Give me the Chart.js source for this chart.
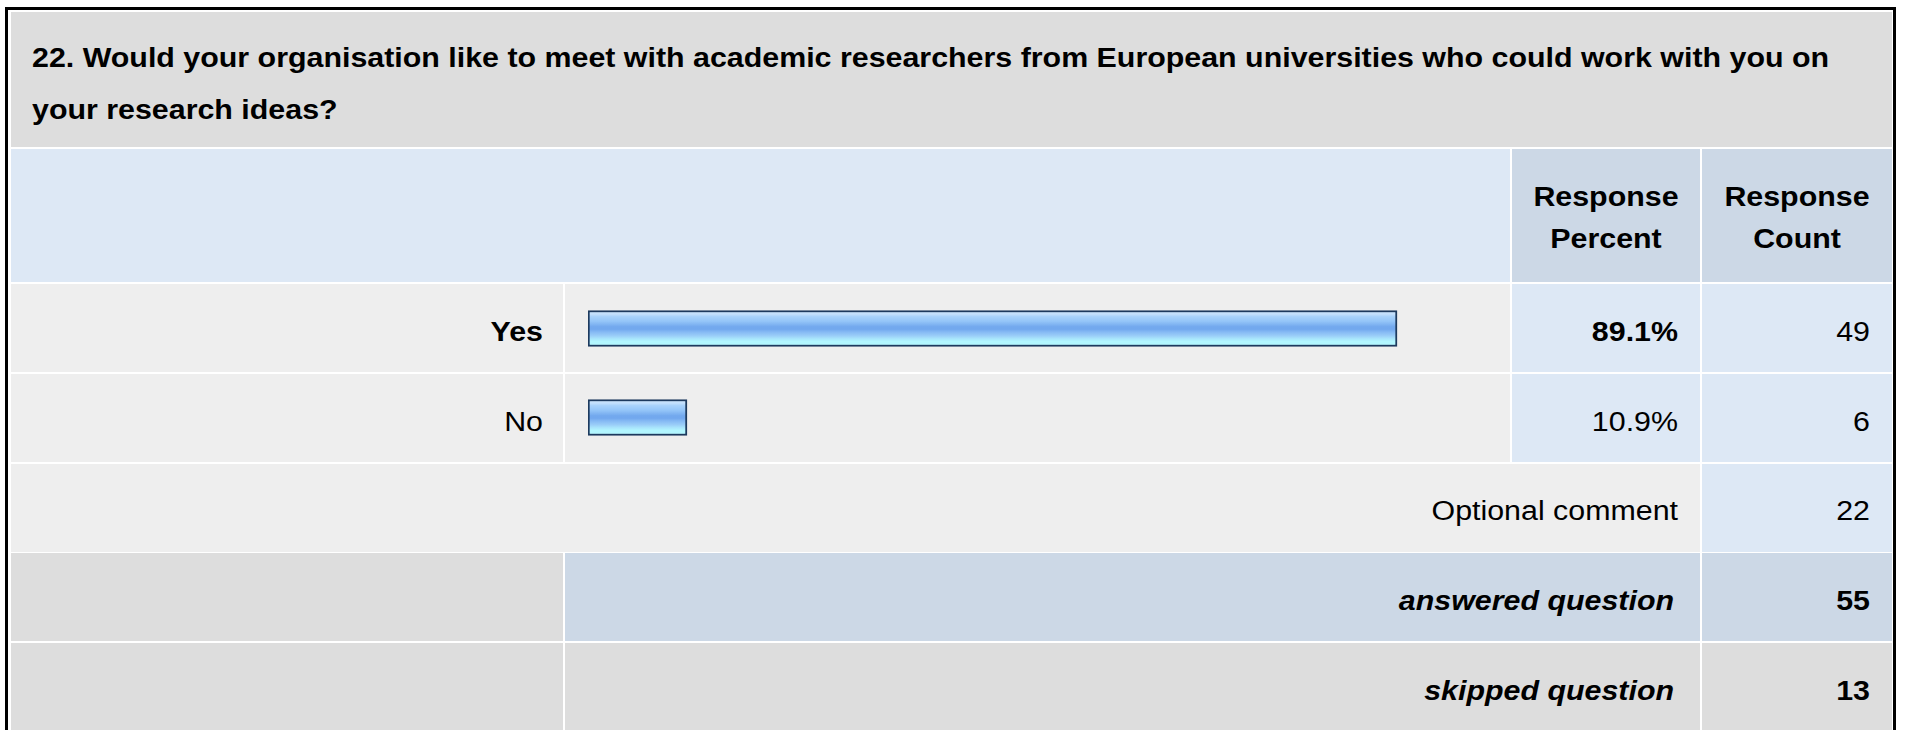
<!DOCTYPE html>
<html>
<head>
<meta charset="utf-8">
<script src="https://cdn.jsdelivr.net/npm/chart.js@4.4.1/dist/chart.umd.min.js"></script>
<style>
  html, body { margin:0; padding:0; background:#ffffff; width:1913px; height:730px; overflow:hidden; position:relative; }
  .box { position:absolute; }
  .t { position:absolute; white-space:nowrap; font-family:"Liberation Sans", Arial, Helvetica, sans-serif;
       font-size:27px; line-height:30px; color:#000; }
  #bars { position:absolute; }
</style>
</head>
<body>
<script>
// ---------------- data ----------------
const questionLines = [
  '22. Would your organisation like to meet with academic researchers from European universities who could work with you on',
  'your research ideas?'
];
const headerPercent = ['Response', 'Percent'];
const headerCount = ['Response', 'Count'];
const categories = ['Yes', 'No'];
const percents = [89.1, 10.9];
const counts = [49, 6];
const footerLabels = ['Optional comment', 'answered question', 'skipped question'];
const footerCounts = [22, 55, 13];

// ---------------- layout ----------------
const SX = 1.125;       // horizontal stretch of the reference text
const BASE = 24.4;      // baseline offset inside a 30px line box at 27px
const C1 = [11, 563], C2 = [565, 1510], C3 = [1512, 1700], C4 = [1702, 1892];
const ROW_TOPS = [284, 374, 464, 553, 643];
const RH = 88;
const GRAY = '#dddddd', LIGHT = '#eeeeee', BLUE = '#dde8f5', BLUE2 = '#ccd8e6';

function box(x0, x1, y0, y1, color) {
  const d = document.createElement('div');
  d.className = 'box';
  d.style.left = x0 + 'px'; d.style.top = y0 + 'px';
  d.style.width = (x1 - x0) + 'px'; d.style.height = (y1 - y0) + 'px';
  d.style.background = color;
  document.body.appendChild(d);
  return d;
}
function text(str, x0, x1, baseline, align, opts) {
  opts = opts || {};
  const d = document.createElement('div');
  d.className = 't';
  d.textContent = str;
  d.style.left = x0 + 'px';
  d.style.width = (x1 - x0) + 'px';
  d.style.top = (baseline - BASE) + 'px';
  d.style.textAlign = align;
  d.style.transform = 'scaleX(' + SX + ')';
  d.style.transformOrigin = (align === 'left' ? 'left' : align === 'right' ? 'right' : 'center') + ' center';
  if (opts.bold) d.style.fontWeight = 'bold';
  if (opts.italic) d.style.fontStyle = 'italic';
  document.body.appendChild(d);
  return d;
}

// outer frame
const frame = document.createElement('div');
frame.style.cssText = 'position:absolute;left:5px;top:7px;width:1891px;height:760px;border:3px solid #000;border-bottom:none;box-sizing:border-box;background:#fff;';
document.body.appendChild(frame);

// title
box(C1[0], C4[1], 12, 147, GRAY);
text(questionLines[0], 32, 1880, 67, 'left', { bold: true });
text(questionLines[1], 32, 1880, 119, 'left', { bold: true });

// header row
box(C1[0], C2[1], 149, 282, BLUE);
box(C3[0], C3[1], 149, 282, BLUE2);
box(C4[0], C4[1], 149, 282, BLUE2);
text(headerPercent[0], C3[0], C3[1], 206, 'center', { bold: true });
text(headerPercent[1], C3[0], C3[1], 248, 'center', { bold: true });
text(headerCount[0], C4[0], C4[1], 206, 'center', { bold: true });
text(headerCount[1], C4[0], C4[1], 248, 'center', { bold: true });

// answer rows
const maxIdx = percents.indexOf(Math.max(...percents));
categories.forEach((cat, i) => {
  const y0 = ROW_TOPS[i], y1 = y0 + RH, bl = y0 + 57;
  box(C1[0], C1[1], y0, y1, LIGHT);
  box(C2[0], C2[1], y0, y1, LIGHT);
  box(C3[0], C3[1], y0, y1, BLUE);
  box(C4[0], C4[1], y0, y1, BLUE);
  const b = i === maxIdx;
  text(cat, C1[0], C1[1] - 20, bl, 'right', { bold: b });
  text(percents[i].toFixed(1) + '%', C3[0], C3[1] - 22, bl, 'right', { bold: b });
  text(String(counts[i]), C4[0], C4[1] - 22, bl, 'right');
});

// optional comment row
{
  const y0 = ROW_TOPS[2], y1 = y0 + RH, bl = y0 + 56;
  box(C1[0], C3[1], y0, y1, LIGHT);
  box(C4[0], C4[1], y0, y1, BLUE);
  text(footerLabels[0], C1[0], C3[1] - 22, bl, 'right');
  text(String(footerCounts[0]), C4[0], C4[1] - 22, bl, 'right');
}
// answered row
{
  const y0 = ROW_TOPS[3], y1 = y0 + RH, bl = y0 + 57;
  box(C1[0], C1[1], y0, y1, GRAY);
  box(C2[0], C3[1], y0, y1, BLUE2);
  box(C4[0], C4[1], y0, y1, BLUE2);
  text(footerLabels[1], C2[0], C3[1] - 26, bl, 'right', { bold: true, italic: true });
  text(String(footerCounts[1]), C4[0], C4[1] - 22, bl, 'right', { bold: true });
}
// skipped row
{
  const y0 = ROW_TOPS[4], y1 = 760, bl = y0 + 57;
  box(C1[0], C1[1], y0, y1, GRAY);
  box(C2[0], C3[1], y0, y1, GRAY);
  box(C4[0], C4[1], y0, y1, GRAY);
  text(footerLabels[2], C2[0], C3[1] - 26, bl, 'right', { bold: true, italic: true });
  text(String(footerCounts[2]), C4[0], C4[1] - 22, bl, 'right', { bold: true });
}

// ---------------- bar chart ----------------
const cv = document.createElement('canvas');
cv.id = 'bars';
const CW = C2[1] - C2[0], CH = ROW_TOPS[1] + RH - ROW_TOPS[0];
cv.width = CW; cv.height = CH;
cv.style.left = C2[0] + 'px'; cv.style.top = ROW_TOPS[0] + 'px';
cv.style.width = CW + 'px'; cv.style.height = CH + 'px';
document.body.appendChild(cv);

const BAR_H = 36;
function barFill(ctx) {
  const chart = ctx.chart;
  const ys = chart.scales && chart.scales.y;
  if (!ys || ctx.dataIndex === undefined) return '#94c4f8';
  const c = ys.getPixelForValue(ctx.dataIndex);
  if (!isFinite(c)) return '#94c4f8';
  const g = chart.ctx.createLinearGradient(0, c - BAR_H / 2, 0, c + BAR_H / 2);
  g.addColorStop(0.00, '#c8e4ff');
  g.addColorStop(0.10, '#c4e0fc');
  g.addColorStop(0.17, '#a8d2fb');
  g.addColorStop(0.30, '#94c5f8');
  g.addColorStop(0.45, '#73a9ee');
  g.addColorStop(0.52, '#72a8ee');
  g.addColorStop(0.60, '#86baf4');
  g.addColorStop(0.70, '#9acdf8');
  g.addColorStop(0.78, '#a8e4fc');
  g.addColorStop(0.86, '#b2f6ff');
  g.addColorStop(1.00, '#b2f6ff');
  return g;
}

new Chart(cv, {
  type: 'bar',
  data: {
    labels: categories,
    datasets: [{
      data: percents,
      backgroundColor: barFill,
      borderColor: '#1d3a5e',
      borderWidth: 2,
      borderSkipped: false,
      barThickness: BAR_H
    }]
  },
  options: {
    indexAxis: 'y',
    responsive: false,
    animation: false,
    devicePixelRatio: 1,
    layout: { padding: { left: 23, right: 14, top: 0, bottom: 0 } },
    plugins: { legend: { display: false }, tooltip: { enabled: false } },
    scales: {
      x: { display: false, min: 0, max: 100 },
      y: { display: false }
    }
  }
});
</script>
</body>
</html>
